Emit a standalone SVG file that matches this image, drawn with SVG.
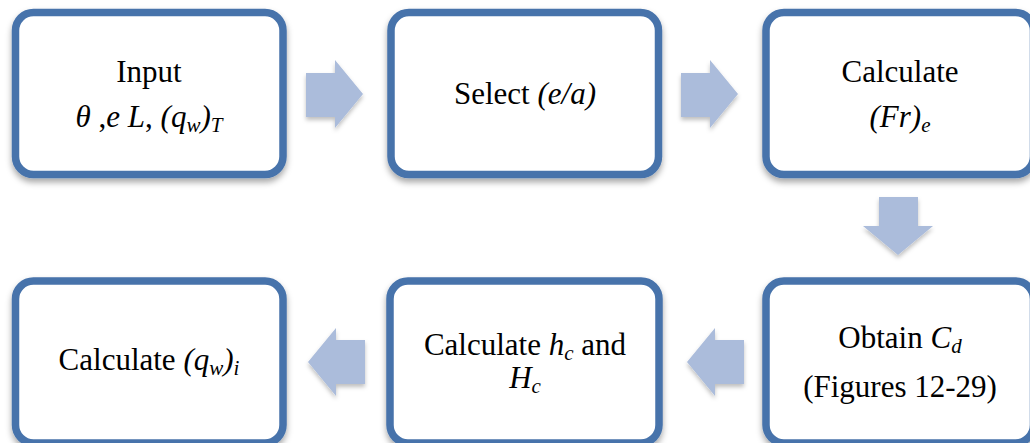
<svg xmlns="http://www.w3.org/2000/svg" width="1030" height="443" viewBox="0 0 1030 443">
<defs>
<filter id="sh" x="-10%" y="-10%" width="120%" height="130%">
<feDropShadow dx="0" dy="4" stdDeviation="3" flood-color="#000" flood-opacity="0.35"/>
</filter>
<filter id="ash" x="-20%" y="-20%" width="140%" height="150%">
<feDropShadow dx="0" dy="3" stdDeviation="2" flood-color="#000" flood-opacity="0.25"/>
</filter>
</defs>
<style>
.box{fill:#fff;stroke:#4773ab;stroke-width:7.5;filter:url(#sh)}
.arr{fill:#abbcdb;filter:url(#ash)}
text{font-family:"Liberation Serif", "Times New Roman", serif;font-size:31px;fill:#000;text-anchor:middle}
.i{font-style:italic}
.s{font-size:21px;font-style:italic}
</style>
<rect width="1030" height="443" fill="#fff"/>
<g id="connectors">
<polygon class="arr" points="306,73 335,73 335,60 363,94 335,128 335,117 306,117"/>
<polygon class="arr" points="681,73 710,73 710,60 738,94 710,128 710,117 681,117"/>
<polygon class="arr" points="879,197 918,197 918,226 933,226 898,255 863,226 879,226"/>
<polygon class="arr" points="687,362 715,328 715,340 744,340 744,384 715,384 715,396"/>
<polygon class="arr" points="308,362 336,328 336,340 365,340 365,384 336,384 336,396"/>
</g>
<g id="n1">
<rect class="box" x="15.5" y="12.5" width="267.5" height="162" rx="18"/>
<text x="149" y="82">Input</text>
<text x="149" y="127"><tspan class="i">θ</tspan> ,<tspan class="i">e L</tspan>, <tspan class="i">(q</tspan><tspan class="s" dy="5">w</tspan><tspan class="i" dy="-5">)</tspan><tspan class="s" dy="5">T</tspan></text>
</g>
<g id="n2">
<rect class="box" x="391" y="12.5" width="267.5" height="162" rx="18"/>
<text x="525" y="104">Select <tspan class="i">(e/a)</tspan></text>
</g>
<g id="n3">
<rect class="box" x="766" y="12.5" width="267.5" height="162" rx="18"/>
<text x="900" y="82">Calculate</text>
<text x="900" y="127"><tspan class="i">(Fr)</tspan><tspan class="s" dy="5">e</tspan></text>
</g>
<g id="n4">
<rect class="box" x="766" y="281" width="267.5" height="162" rx="18"/>
<text x="900" y="348">Obtain <tspan class="i">C</tspan><tspan class="s" dy="5">d</tspan></text>
<text x="900" y="397">(Figures 12-29)</text>
</g>
<g id="n5">
<rect class="box" x="390" y="281" width="269" height="162" rx="18"/>
<text x="525" y="355">Calculate <tspan class="i">h</tspan><tspan class="s" dy="5">c</tspan><tspan dy="-5"> and</tspan></text>
<text x="525" y="388"><tspan class="i">H</tspan><tspan class="s" dy="5">c</tspan></text>
</g>
<g id="n6">
<rect class="box" x="15.5" y="281" width="267.5" height="162" rx="18"/>
<text x="149" y="370">Calculate <tspan class="i">(q</tspan><tspan class="s" dy="5">w</tspan><tspan class="i" dy="-5">)</tspan><tspan class="s" dy="5">i</tspan></text>
</g>
</svg>
